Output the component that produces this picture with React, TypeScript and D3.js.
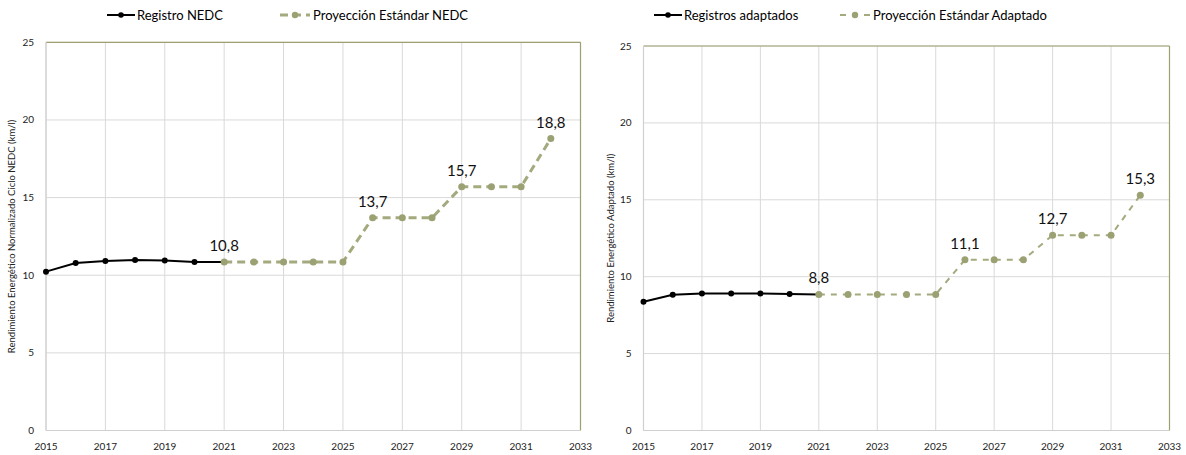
import React from "react";
import * as d3 from "d3";

const recordYears = [2015, 2016, 2017, 2018, 2019, 2020, 2021];
const projYears = [2021, 2022, 2023, 2024, 2025, 2026, 2027, 2028, 2029, 2030, 2031, 2032];

const nedcRecords = [10.23, 10.79, 10.92, 10.98, 10.94, 10.85, 10.85];
const nedcProjection = [10.85, 10.85, 10.85, 10.85, 10.85, 13.7, 13.7, 13.7, 15.7, 15.7, 15.7, 18.8];
const nedcLabels = [{ year: 2021, text: "10,8" }, { year: 2026, text: "13,7" }, { year: 2029, text: "15,7" }, { year: 2032, text: "18,8" }];

const adaptRecords = [8.37, 8.83, 8.91, 8.91, 8.91, 8.87, 8.85];
const adaptProjection = [8.85, 8.85, 8.85, 8.85, 8.85, 11.1, 11.1, 11.1, 12.7, 12.7, 12.7, 15.3];
const adaptLabels = [{ year: 2021, text: "8,8" }, { year: 2026, text: "11,1" }, { year: 2029, text: "12,7" }, { year: 2032, text: "15,3" }];

const xTicks = [2015, 2017, 2019, 2021, 2023, 2025, 2027, 2029, 2031, 2033];
const yTicks = [0, 5, 10, 15, 20, 25];

const FONT = "Lato, 'Open Sans', sans-serif";
const GREEN = "#a4aa7e";
const GREEN_DARK = "#9ca173";
const GRID = "#d9d9d9";
const BORDER = "#9ea070";

type ChartProps = {
  left: number; right: number; top: number; bottom: number;
  records: number[]; projection: number[]; labels: { year: number; text: string }[];
  yTitle: string; titleX: number;
  legend: { blackX: number; greenX: number; black: string; green: string };
  greenWidth: number; greenDash: string;
};

function Chart(p: ChartProps) {
  const x = d3.scaleLinear().domain([2015, 2033]).range([p.left, p.right]);
  const y = d3.scaleLinear().domain([0, 25]).range([p.bottom, p.top]);
  const line = d3.line<[number, number]>().x(d => x(d[0])).y(d => y(d[1]));
  const recPts: [number, number][] = recordYears.map((yr, i) => [yr, p.records[i]]);
  const projPts: [number, number][] = projYears.map((yr, i) => [yr, p.projection[i]]);
  const ly = 15;
  return (
    <g>
      {/* legend */}
      <line x1={p.legend.blackX} x2={p.legend.blackX + 28} y1={ly} y2={ly} stroke="#000" strokeWidth={2} />
      <circle cx={p.legend.blackX + 14} cy={ly} r={2.8} fill="#000" />
      <text x={p.legend.blackX + 30} y={ly + 4.5} fontFamily={FONT} fontSize={13} fill="#000">{p.legend.black}</text>
      <line x1={p.legend.greenX} x2={p.legend.greenX + 30} y1={ly} y2={ly} stroke={GREEN} strokeWidth={p.greenWidth} strokeDasharray={p.greenDash} />
      <circle cx={p.legend.greenX + 15} cy={ly} r={3.2} fill={GREEN_DARK} />
      <text x={p.legend.greenX + 33} y={ly + 4.5} fontFamily={FONT} fontSize={13} fill="#000">{p.legend.green}</text>

      {/* grid */}
      {yTicks.map(t => (
        <line key={"gy" + t} x1={p.left} x2={p.right} y1={y(t)} y2={y(t)} stroke={GRID} strokeWidth={1} />
      ))}
      {xTicks.map(t => (
        <line key={"gx" + t} x1={x(t)} x2={x(t)} y1={p.top} y2={p.bottom} stroke={GRID} strokeWidth={1} />
      ))}
      {/* borders */}
      <line x1={p.left} x2={p.right} y1={p.top} y2={p.top} stroke={BORDER} strokeWidth={1.2} />
      <line x1={p.right} x2={p.right} y1={p.top} y2={p.bottom} stroke={BORDER} strokeWidth={1.2} />
      <line x1={p.left} x2={p.left} y1={p.top} y2={p.bottom} stroke="#d0d0d0" strokeWidth={1.2} />
      <line x1={p.left} x2={p.right} y1={p.bottom} y2={p.bottom} stroke="#d0d0d0" strokeWidth={1.2} />

      {/* tick labels */}
      {yTicks.map(t => (
        <text key={"ty" + t} x={p.left - 12} y={y(t) + 3.5} textAnchor="end" fontFamily={FONT} fontSize={10} fill="#222">{t}</text>
      ))}
      {xTicks.map(t => (
        <text key={"tx" + t} x={x(t)} y={p.bottom + 19} textAnchor="middle" fontFamily={FONT} fontSize={10} fill="#222">{t}</text>
      ))}
      <text transform={`translate(${p.titleX},${(p.top + p.bottom) / 2}) rotate(-90)`} textAnchor="middle" fontFamily={FONT} fontSize={9.5} fill="#222">{p.yTitle}</text>

      {/* series */}
      <path d={line(recPts) || ""} fill="none" stroke="#000" strokeWidth={2} />
      {recPts.slice(0, -1).map((d, i) => (
        <circle key={"rp" + i} cx={x(d[0])} cy={y(d[1])} r={3} fill="#000" />
      ))}
      <path d={line(projPts) || ""} fill="none" stroke={GREEN} strokeWidth={p.greenWidth} strokeDasharray={p.greenDash} />
      {projPts.map((d, i) => (
        <circle key={"pp" + i} cx={x(d[0])} cy={y(d[1])} r={3.5} fill={GREEN_DARK} />
      ))}
      {p.labels.map(l => {
        const v = p.projection[projYears.indexOf(l.year)];
        return (
          <text key={"l" + l.year} x={x(l.year)} y={y(v) - 11} textAnchor="middle" fontFamily={FONT} fontSize={15} fill="#111">{l.text}</text>
        );
      })}
    </g>
  );
}

export default function App() {
  return (
    <svg width={1186} height={455} style={{ position: "absolute", left: 0, top: 0, background: "#fff" }}>
      <rect width={1186} height={455} fill="#fff" />
      <Chart left={46} right={580.5} top={42.3} bottom={430.5}
        records={nedcRecords} projection={nedcProjection} labels={nedcLabels}
        yTitle="Rendimiento Energético Normalizado Ciclo NEDC (km/l)" titleX={15}
        legend={{ blackX: 107, greenX: 280, black: "Registro NEDC", green: "Proyección Estándar NEDC" }}
        greenWidth={3} greenDash="8,5" />
      <Chart left={643.5} right={1169.5} top={46} bottom={430.5}
        records={adaptRecords} projection={adaptProjection} labels={adaptLabels}
        yTitle="Rendimiento Energético Adaptado (km/l)" titleX={614}
        legend={{ blackX: 654, greenX: 840, black: "Registros adaptados", green: "Proyección Estándar Adaptado" }}
        greenWidth={2} greenDash="6,6" />
    </svg>
  );
}
